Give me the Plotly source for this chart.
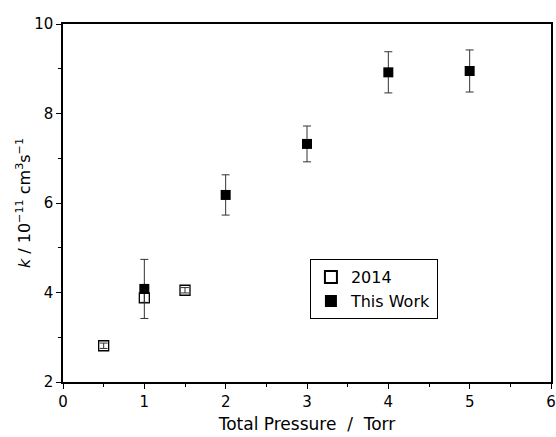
import plotly.graph_objects as go

# Data
p_2014 = [0.5, 1.0, 1.5]
k_2014 = [2.81, 3.88, 4.05]
e_2014 = [0.06, 0.10, 0.06]

p_this = [1, 2, 3, 4, 5]
k_this = [4.08, 6.18, 7.32, 8.92, 8.95]
e_this = [0.66, 0.45, 0.40, 0.46, 0.47]

FONT = "DejaVu Sans, Liberation Sans, sans-serif"

fig = go.Figure()
fig.add_trace(go.Scatter(
    x=p_2014, y=k_2014, mode="markers", name="2014",
    marker=dict(symbol="square-open", size=10, color="black", line=dict(width=1.3, color="black")),
    error_y=dict(type="data", array=e_2014, color="#333333", thickness=1, width=4),
))
fig.add_trace(go.Scatter(
    x=p_this, y=k_this, mode="markers", name="This Work",
    marker=dict(symbol="square", size=10, color="black"),
    error_y=dict(type="data", array=e_this, color="#333333", thickness=1, width=4),
))

axis_common = dict(
    showgrid=False, zeroline=False, showline=True, linecolor="black", linewidth=1.5,
    mirror=True, ticks="outside", ticklen=5, tickwidth=1.3, tickcolor="black",
    tickfont=dict(size=15, color="black", family=FONT), automargin=False,
)
fig.update_xaxes(
    range=[0, 6], dtick=1, tick0=0,
    minor=dict(dtick=0.5, ticks="outside", ticklen=3, tickcolor="black", tickwidth=1),
    title=dict(text="Total Pressure\u00a0\u00a0/\u00a0\u00a0Torr",
               font=dict(size=17, color="black", family=FONT), standoff=8),
    **axis_common,
)
fig.update_yaxes(
    range=[2, 10], dtick=2, tick0=2,
    minor=dict(dtick=1, ticks="outside", ticklen=3, tickcolor="black", tickwidth=1),
    title=dict(text="<i>k</i>\u00a0/\u00a010<sup>\u221211</sup> cm<sup>3</sup>s<sup>\u22121</sup>",
               font=dict(size=16, color="black", family=FONT), standoff=0),
    **axis_common,
)
fig.update_layout(
    width=556, height=437,
    margin=dict(l=63, r=5, t=24, b=55),
    paper_bgcolor="white", plot_bgcolor="white",
    font=dict(family=FONT, color="black"),
    legend=dict(
        x=0.506, y=0.343, xanchor="left", yanchor="top",
        bordercolor="black", borderwidth=1, bgcolor="white",
        font=dict(size=16, color="black", family=FONT),
        itemsizing="constant", tracegroupgap=0,
    ),
    showlegend=True,
)
fig.write_html("out.html", config={"displayModeBar": False},
               post_script="document.body.style.margin='0';document.body.style.overflow='hidden';")
